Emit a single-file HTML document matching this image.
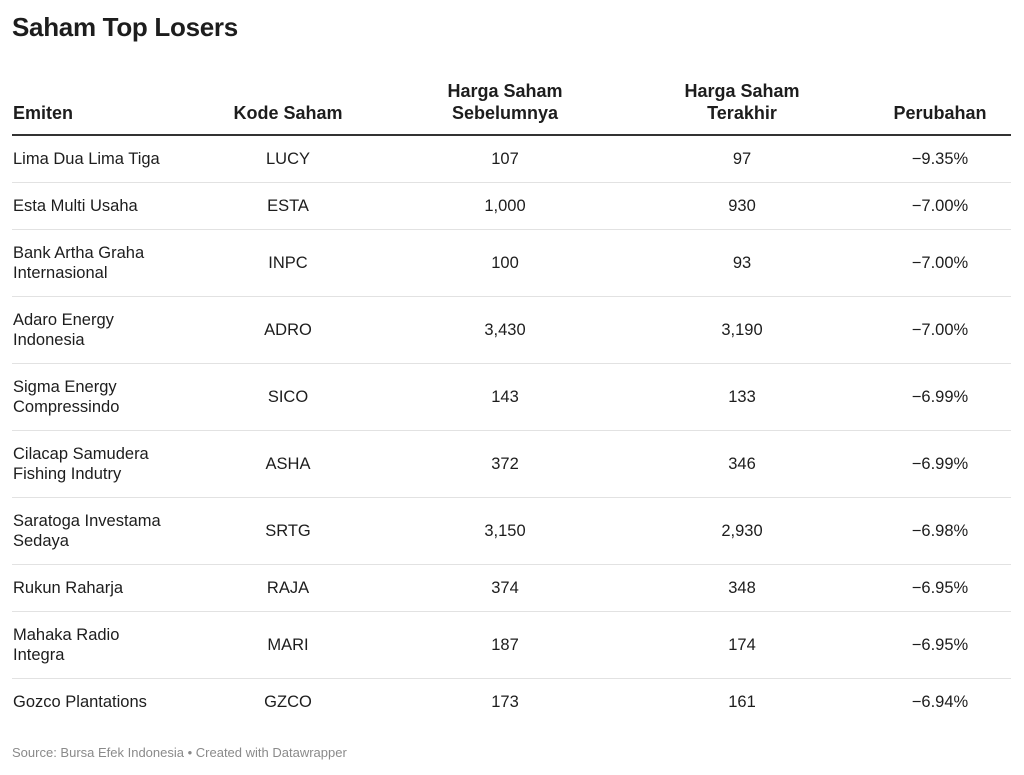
<!DOCTYPE html>
<html><head><meta charset="utf-8">
<style>
body{margin:0;width:1024px;height:775px;background:#fff;font-family:"Liberation Sans",Arial,sans-serif;color:#1d1d1d;position:relative;overflow:hidden}
.title{position:absolute;left:12px;top:12px;font-size:26px;font-weight:bold;letter-spacing:-0.3px}
.hdr{position:absolute;top:76px;left:12px;width:999px;height:58px;border-bottom:2px solid #333;font-weight:bold;font-size:18px}
.hc{position:absolute;bottom:10px;line-height:22px;text-align:center}
.row{position:absolute;left:12px;width:999px;border-bottom:1px solid #e2e2e2;font-size:16.5px}
.c{position:absolute;top:0;height:100%;display:flex;align-items:center;line-height:20px}
.c1{left:1px;width:200px}
.c2{left:176px;width:200px;justify-content:center}
.c3{left:393px;width:200px;justify-content:center}
.c4{left:630px;width:200px;justify-content:center}
.c5{left:828px;width:200px;justify-content:center}
.src{position:absolute;left:12px;top:745px;font-size:13px;color:#8a8a8a}
</style></head><body>
<div class="title">Saham Top Losers</div>
<div class="hdr">
<div class="hc" style="left:1px;text-align:left">Emiten</div>
<div class="hc" style="left:176px;width:200px">Kode Saham</div>
<div class="hc" style="left:393px;width:200px">Harga Saham<br>Sebelumnya</div>
<div class="hc" style="left:630px;width:200px">Harga Saham<br>Terakhir</div>
<div class="hc" style="left:828px;width:200px">Perubahan</div>
</div>
<div id="rows"></div>
<div class="src">Source: Bursa Efek Indonesia • Created with Datawrapper</div>
<script>
const names=["Lima Dua Lima Tiga","Esta Multi Usaha","Bank Artha Graha<br>Internasional","Adaro Energy<br>Indonesia","Sigma Energy<br>Compressindo","Cilacap Samudera<br>Fishing Indutry","Saratoga Investama<br>Sedaya","Rukun Raharja","Mahaka Radio<br>Integra","Gozco Plantations"];
const codes=["LUCY","ESTA","INPC","ADRO","SICO","ASHA","SRTG","RAJA","MARI","GZCO"];
const prev=["107","1,000","100","3,430","143","372","3,150","374","187","173"];
const last=["97","930","93","3,190","133","346","2,930","348","174","161"];
const chg=["−9.35%","−7.00%","−7.00%","−7.00%","−6.99%","−6.99%","−6.98%","−6.95%","−6.95%","−6.94%"];
const root=document.getElementById('rows');
let y=136;
for(let i=0;i<names.length;i++){
  const h=names[i].includes('<br>')?66:46;
  const r=document.createElement('div');
  r.className='row';
  r.style.top=y+'px';r.style.height=h+'px';
  if(i===names.length-1)r.style.borderBottom='none';
  
  
  r.innerHTML='<div class="c c1">'+names[i]+'</div><div class="c c2">'+codes[i]+'</div><div class="c c3">'+prev[i]+'</div><div class="c c4">'+last[i]+'</div><div class="c c5">'+chg[i]+'</div>';
  root.appendChild(r);
  y+=h+1;
}
</script>
</body></html>
